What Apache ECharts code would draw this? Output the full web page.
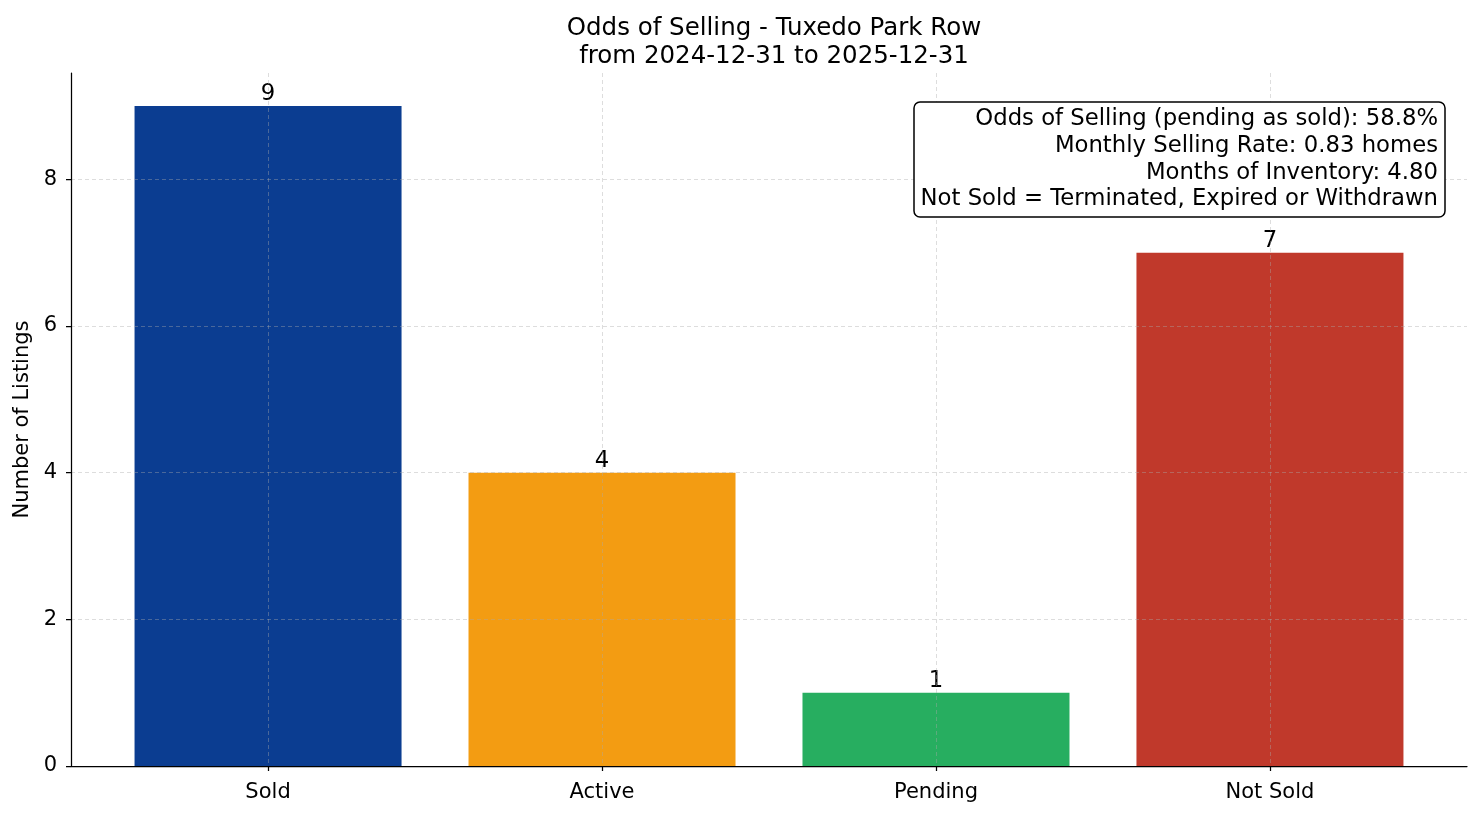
<!DOCTYPE html>
<html>
<head>
<meta charset="utf-8">
<script src="https://cdn.jsdelivr.net/npm/echarts@6/dist/echarts.min.js"></script>
<style>html,body{margin:0;padding:0;background:#fff;}#c{width:1481px;height:816px;}</style>
</head>
<body>
<div id="c"></div>
<script>
var categories = ['Sold', 'Active', 'Pending', 'Not Sold'];
var counts = [9, 4, 1, 7];
var barColors = ['#0b3d91', '#f39c12', '#27ae60', '#c0392b'];
var yTicks = [0, 2, 4, 6, 8];
var titleLines = ['Odds of Selling - Tuxedo Park Row', 'from 2024-12-31 to 2025-12-31'];
var noteLines = [
  'Odds of Selling (pending as sold): 58.8%',
  'Monthly Selling Rate: 0.83 homes',
  'Months of Inventory: 4.80',
  'Not Sold = Terminated, Expired or Withdrawn'
];

var FONT = 'DejaVu Sans';
var catIdx = categories.map(function (c, i) { return i; });
var gridLine = { show: true, lineStyle: { color: 'rgba(170,170,170,0.5)', width: 0.8, type: [4, 3] } };

var chart = echarts.init(document.getElementById('c'), null, { renderer: 'canvas' });
chart.setOption({
  backgroundColor: '#ffffff',
  animation: false,
  textStyle: { fontFamily: FONT },
  title: [{
    text: titleLines.join('\n'),
    left: 769, top: 10, textAlign: 'center',
    textStyle: { fontFamily: FONT, fontSize: 24.5, fontWeight: 'normal', color: '#000', lineHeight: 28 }
  }, {
    text: noteLines.join('\n'),
    left: 1431, top: 102, textAlign: 'right', z: 10,
    backgroundColor: '#ffffff',
    borderColor: '#000',
    borderWidth: 1.5,
    borderRadius: 6,
    padding: [4, 7, 4, 7],
    textStyle: { fontFamily: FONT, fontSize: 22.75, fontWeight: 'normal', color: '#000', lineHeight: 26.7, align: 'right' }
  }],
  grid: { left: 71, right: 14, top: 73, bottom: 50, containLabel: false },
  xAxis: {
    type: 'value', min: -0.59, max: 3.59, z: 5,
    axisLine: { show: true, onZero: false, lineStyle: { color: '#000', width: 1.25 } },
    axisTick: { show: true, length: 5, customValues: catIdx, lineStyle: { color: '#000', width: 1.25 } },
    axisLabel: { show: true, customValues: catIdx, margin: 16, fontSize: 21, color: '#000', fontFamily: FONT,
      formatter: function (v) { return categories[Math.round(v)]; } },
    splitLine: gridLine
  },
  yAxis: {
    type: 'value', min: 0, max: 9.45, z: 5,
    name: 'Number of Listings', nameLocation: 'middle', nameGap: 35,
    nameTextStyle: { fontFamily: FONT, fontSize: 21, color: '#000' },
    axisLine: { show: true, onZero: false, lineStyle: { color: '#000', width: 1.25 } },
    axisTick: { show: true, length: 5, customValues: yTicks, lineStyle: { color: '#000', width: 1.25 } },
    axisLabel: { show: true, customValues: yTicks, margin: 14, fontSize: 21, color: '#000', fontFamily: FONT },
    splitLine: gridLine
  },
  series: [{
    type: 'bar',
    barWidth: 267,
    data: counts.map(function (v, i) { return { value: [i, v], itemStyle: { color: barColors[i] } }; }),
    label: { show: true, position: 'top', distance: 0, fontSize: 22.75, color: '#000', fontFamily: FONT,
      formatter: function (p) { return p.value[1]; } }
  }]
});
</script>
</body>
</html>
